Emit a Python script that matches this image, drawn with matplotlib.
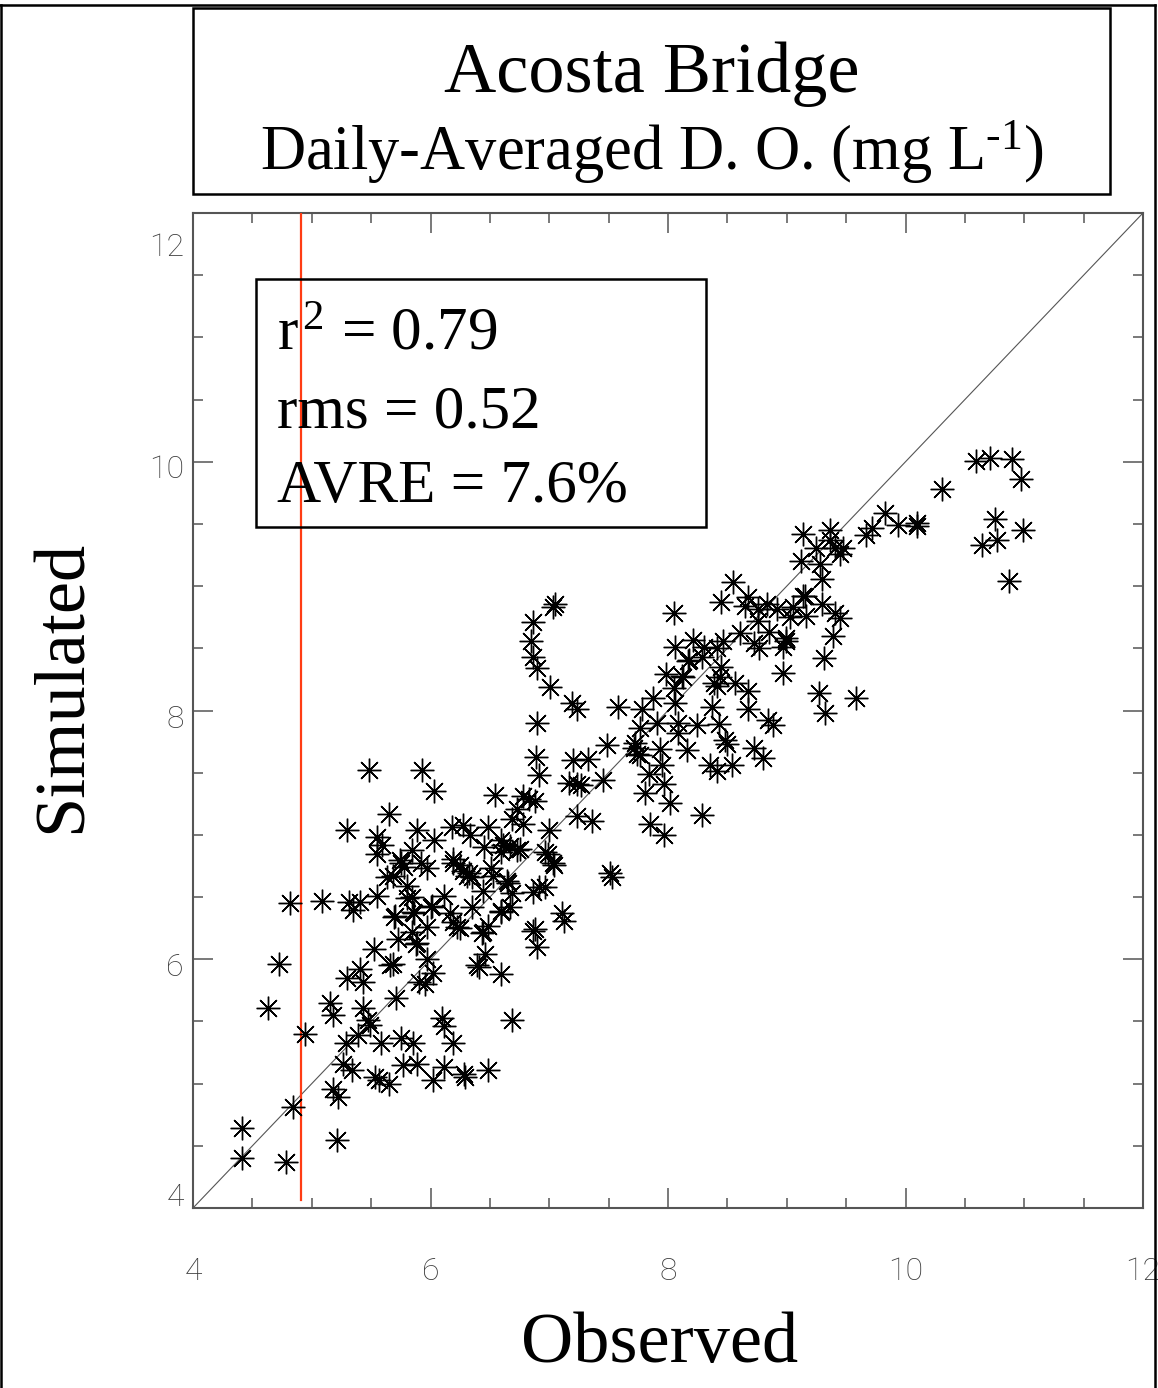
import matplotlib
matplotlib.use("Agg")
from matplotlib import pyplot as plt
from matplotlib import patches
from matplotlib.lines import Line2D
from matplotlib.ticker import MultipleLocator, NullFormatter
from matplotlib.transforms import blended_transform_factory, ScaledTranslation

plt.rcParams["font.family"] = ["Liberation Serif", "DejaVu Serif"]
plt.rcParams["mathtext.fontset"] = "custom"
plt.rcParams["mathtext.rm"] = "Liberation Serif"
plt.rcParams["mathtext.it"] = "Liberation Serif:italic"

# daily-averaged dissolved oxygen, mg/L
observed = [
    4.41, 4.41, 4.78, 4.84, 5.21, 4.94, 4.63, 4.72, 4.82, 5.09, 5.31, 5.41, 5.35, 5.55,
    5.15, 5.18, 5.29, 5.26, 5.34, 5.18, 5.22, 5.41, 5.43, 5.52, 5.30, 5.43, 5.47, 5.49,
    5.39, 5.58, 5.66, 5.71, 5.75, 5.85, 5.77, 5.89, 5.53, 5.57, 5.65, 6.02, 6.11, 6.28,
    6.29, 6.48, 6.10, 6.19, 6.11, 6.02, 5.95, 5.90, 6.39, 6.59, 6.69, 5.70, 5.73, 5.86,
    5.84, 5.88, 5.97, 6.00, 6.16, 6.22, 6.35, 6.44, 6.46, 6.43, 6.59, 6.11, 5.68, 5.80,
    5.55, 5.75, 5.92, 5.97, 6.27, 6.19, 6.31, 6.44, 6.53, 6.59, 6.65, 6.86, 6.86, 6.90,
    5.48, 5.93, 6.03, 5.65, 5.30, 5.55, 5.59, 5.89, 6.03, 5.84, 5.74, 5.78, 5.63, 5.80,
    5.84, 5.69, 5.85, 5.89, 5.68, 6.01, 5.97, 6.19, 6.25, 6.18, 6.27, 6.33, 6.19, 6.25,
    6.32, 6.35, 6.51, 6.45, 6.48, 6.54, 6.48, 6.41, 6.59, 6.61, 6.67, 6.64, 6.69, 6.59,
    6.67, 6.75, 6.69, 6.78, 6.73, 6.78, 6.83, 6.89, 6.91, 7.00, 6.96, 7.03, 6.96, 6.91,
    7.11, 7.20, 7.33, 7.49, 7.17, 7.23, 7.45, 6.88, 7.23, 7.36, 6.73, 6.99, 7.04, 6.88,
    7.12, 7.51, 7.53, 7.71, 7.74, 7.84, 7.93, 8.16, 8.50, 8.72, 8.35, 8.41, 8.54, 7.95,
    7.97, 7.81, 8.02, 7.85, 7.97, 8.29, 7.05, 7.03, 6.86, 6.85, 6.86, 6.90, 7.01, 7.19,
    7.23, 6.90, 7.58, 7.27, 8.05, 8.06, 8.21, 8.30, 8.29, 8.18, 8.12, 7.98, 8.13, 8.05,
    7.87, 7.78, 7.76, 7.76, 7.91, 8.06, 8.08, 8.24, 8.39, 8.44, 8.41, 8.37, 8.43, 8.48,
    8.56, 8.67, 8.67, 8.80, 8.84, 8.88, 8.97, 8.97, 8.99, 8.85, 8.77, 8.72, 8.61, 8.46,
    8.55, 8.45, 8.67, 8.65, 8.76, 8.83, 8.92, 9.05, 9.15, 9.16, 9.03, 9.30, 9.41, 9.45,
    9.39, 9.31, 9.27, 9.32, 9.58, 9.12, 9.28, 9.30, 9.45, 8.76, 8.41, 8.17, 8.45, 8.08,
    7.72, 10.59, 10.71, 10.90, 10.97, 10.31, 9.83, 9.94, 10.10, 10.10, 9.72, 9.67, 9.14,
    9.36, 9.36, 9.25, 9.41, 9.47, 9.14, 8.99, 10.75, 10.99, 10.64, 10.77, 10.87,
]
simulated = [
    4.64, 4.40, 4.37, 4.81, 4.55, 5.40, 5.61, 5.96, 6.45, 6.47, 6.46, 6.46, 6.40, 6.51,
    5.65, 5.55, 5.33, 5.16, 5.11, 4.96, 4.89, 5.92, 5.82, 6.08, 5.85, 5.61, 5.51, 5.47,
    5.39, 5.33, 5.95, 5.69, 5.37, 5.33, 5.15, 5.16, 5.05, 5.03, 5.00, 5.03, 5.13, 5.08,
    5.05, 5.11, 5.53, 5.33, 5.46, 5.89, 5.80, 5.82, 5.95, 5.88, 5.51, 6.35, 6.16, 6.37,
    6.22, 6.12, 6.26, 6.42, 6.37, 6.26, 6.42, 6.22, 6.04, 6.21, 6.38, 6.51, 6.67, 6.49,
    6.85, 6.77, 6.77, 6.73, 6.71, 6.77, 6.67, 6.55, 6.67, 6.86, 6.61, 6.54, 6.23, 6.10,
    7.52, 7.52, 7.35, 7.17, 7.04, 6.98, 6.92, 7.04, 6.96, 6.88, 6.80, 6.74, 6.66, 6.59,
    6.50, 6.34, 6.38, 6.13, 5.96, 6.43, 6.00, 6.30, 6.25, 7.06, 7.08, 7.00, 6.81, 6.76,
    6.69, 6.66, 6.73, 6.90, 7.06, 7.32, 6.27, 5.94, 6.96, 6.92, 6.91, 6.63, 6.53, 6.39,
    6.42, 6.89, 7.13, 7.09, 7.21, 7.31, 7.29, 7.63, 7.48, 7.04, 6.86, 6.77, 6.58, 6.58,
    6.37, 7.60, 7.61, 7.72, 7.42, 7.41, 7.44, 7.27, 7.15, 7.11, 6.88, 6.85, 6.76, 6.24,
    6.31, 6.69, 6.66, 7.70, 7.65, 7.49, 7.69, 7.68, 7.73, 7.70, 7.56, 7.51, 7.56, 7.56,
    7.41, 7.34, 7.26, 7.09, 7.00, 7.16, 8.86, 8.83, 8.71, 8.56, 8.43, 8.34, 8.19, 8.06,
    8.01, 7.90, 8.03, 7.40, 8.78, 8.51, 8.57, 8.51, 8.43, 8.41, 8.28, 8.29, 8.27, 8.18,
    8.10, 8.01, 7.86, 7.64, 7.90, 8.06, 7.90, 7.88, 8.22, 8.27, 8.20, 8.03, 7.89, 7.76,
    8.22, 8.16, 8.01, 7.62, 7.92, 7.88, 8.30, 8.51, 8.58, 8.63, 8.50, 8.54, 8.62, 8.56,
    9.03, 8.87, 8.91, 8.84, 8.82, 8.86, 8.82, 8.83, 8.92, 8.76, 8.75, 8.86, 8.78, 8.74,
    8.60, 8.42, 8.14, 7.98, 8.10, 9.20, 9.18, 9.06, 9.26, 8.72, 8.50, 8.40, 8.35, 7.82,
    7.74, 10.01, 10.03, 10.02, 9.86, 9.78, 9.59, 9.49, 9.51, 9.48, 9.47, 9.41, 9.42,
    9.45, 9.37, 9.31, 9.31, 9.31, 8.92, 8.56, 9.54, 9.45, 9.33, 9.37, 9.04,
]

axis_range = [4, 12]
axis_ticks = [4, 6, 8, 10, 12]
threshold_do = 4.91
stats_lines = [r"$\mathrm{r}^{\,2}$ = 0.79", "rms = 0.52", "AVRE = 7.6%"]

W, H = 1158, 1388
fig = plt.figure(figsize=(W / 100, H / 100), dpi=100)


def fx(px):
    return px / W


def fy(py):
    return 1 - py / H


tick_font = dict(family=["Roboto", "DejaVu Sans"], weight="light", fontsize=23, color="#3c3c3c")

ax = fig.add_axes([fx(193), fy(1208), fx(1143) - fx(193), fy(213) - fy(1208)])
ax.set_xlim(axis_range)
ax.set_ylim(axis_range)

# 1:1 line and the red marker line
ax.plot(axis_range, axis_range, color="#555555", lw=0.8, zorder=2)
ax.plot([threshold_do, threshold_do], [4.065, 12], color="#ff3c14", lw=1.6, zorder=3)

ax.plot(observed, simulated, linestyle="none", marker=(8, 2, 0), markersize=17,
        markeredgewidth=1.0, color="black", zorder=4)

ax.set_xticks(axis_ticks)
ax.set_yticks(axis_ticks)
ax.xaxis.set_minor_locator(MultipleLocator(0.5))
ax.yaxis.set_minor_locator(MultipleLocator(0.5))
ax.tick_params(which="both", direction="in", top=True, right=True, color="#555555", width=1.1)
ax.tick_params(which="major", length=14.4)
ax.tick_params(which="minor", length=7.2)
ax.tick_params(axis="x", pad=35)
for lab in ax.get_xticklabels():
    lab.set(**tick_font)
ax.yaxis.set_major_formatter(NullFormatter())

# y labels, end ones pulled inside the axis range
y_label_nudge = [-11, 8, 9, 8, 34]
ytrans = blended_transform_factory(ax.transAxes, ax.transData)
for v, dy in zip(axis_ticks, y_label_nudge):
    tr = ytrans + ScaledTranslation(-9 / 100, -dy / 100, fig.dpi_scale_trans)
    ax.text(0, v, str(v), transform=tr, ha="right", va="center", **tick_font)

for sp in ax.spines.values():
    sp.set_color("#555555")
    sp.set_linewidth(1.5)

# title box
fig.add_artist(patches.Rectangle((fx(193), fy(194)), fx(1110) - fx(193), fy(8) - fy(194),
                                 transform=fig.transFigure, fill=False, lw=1.8, ec="black"))
fig.text(fx(652), fy(92), "Acosta Bridge", ha="center", va="baseline", fontsize=52)
fig.text(fx(652), fy(170), r"Daily-Averaged D. O. (mg L$^{\text{-1}}$)", ha="center",
         va="baseline", fontsize=45)

# statistics box
fig.add_artist(patches.Rectangle((fx(256), fy(527)), fx(706) - fx(256), fy(279) - fy(527),
                                 transform=fig.transFigure, fill=False, lw=1.8, ec="black",
                                 fc="white", zorder=5))
for text, base in zip(stats_lines, [350, 427, 502]):
    fig.text(fx(277), fy(base), text, ha="left", va="baseline", fontsize=44, zorder=6)

fig.text(fx(63), fy(686), "Simulated", rotation=90, ha="center", va="center", fontsize=52)
fig.text(fx(660), fy(1362), "Observed", ha="center", va="baseline", fontsize=52)

# page frame
for xs, ys in [([1, 1], [5, H]), ([0, 1155], [5, 5]), ([1155, 1155], [5, H])]:
    fig.add_artist(Line2D([fx(x) for x in xs], [fy(y) for y in ys], transform=fig.transFigure,
                          color="black", lw=1.8))

fig.savefig("out.png", dpi=100)
